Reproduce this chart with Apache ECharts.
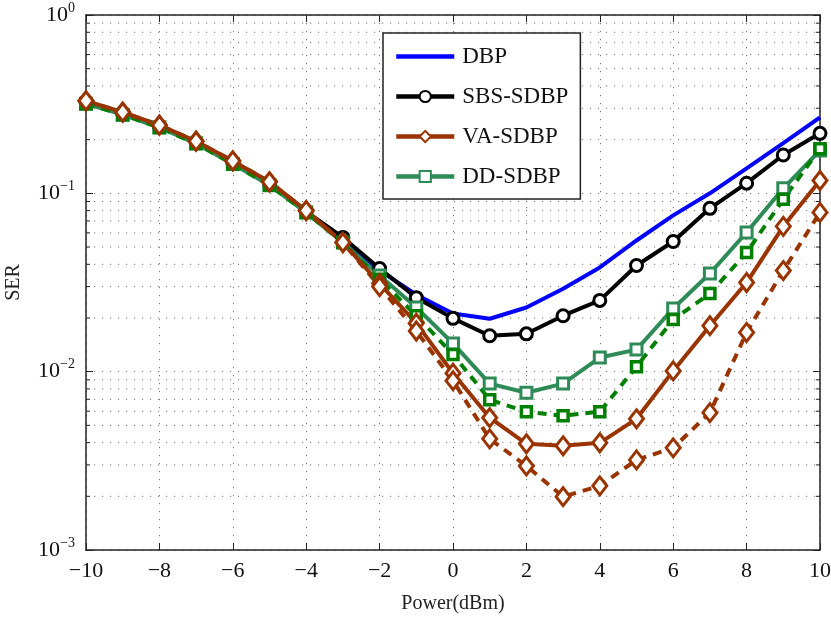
<!DOCTYPE html>
<html>
<head>
<meta charset="utf-8">
<script src="https://cdn.jsdelivr.net/npm/echarts@6/dist/echarts.min.js"></script>
<style>
  html, body { margin: 0; padding: 0; background: #fff; }
  #main { width: 831px; height: 617px; }
</style>
</head>
<body>
<div id="main"></div>
<script>
// power axis (dBm)
var power = [-10, -9, -8, -7, -6, -5, -4, -3, -2, -1, 0, 1, 2, 3, 4, 5, 6, 7, 8, 9, 10];

var dbp = [0.325, 0.281, 0.238, 0.194, 0.149, 0.113, 0.079, 0.054, 0.037, 0.027, 0.0212,
           0.0198, 0.0229, 0.0292, 0.0384, 0.0544, 0.0752, 0.100, 0.138, 0.191, 0.267];
var sbs = [0.325, 0.281, 0.238, 0.194, 0.149, 0.113, 0.079, 0.0566, 0.0379, 0.0260, 0.0199,
           0.0159, 0.0163, 0.0206, 0.0251, 0.0394, 0.0537, 0.0824, 0.114, 0.164, 0.217];
var vaSolid = [0.330, 0.285, 0.241, 0.196, 0.152, 0.116, 0.080, 0.053, 0.0312, 0.0187, 0.0098,
               0.00552, 0.00394, 0.00384, 0.00399, 0.00544, 0.0101, 0.0181, 0.0316, 0.0653, 0.118];
var vaDashed = [0.330, 0.285, 0.241, 0.196, 0.152, 0.116, 0.080, 0.053, 0.030, 0.0169, 0.0089,
                0.0042, 0.00296, 0.00199, 0.00229, 0.0032, 0.00374, 0.00589, 0.0166, 0.0369, 0.0782];
var ddSolid = [0.318, 0.276, 0.234, 0.190, 0.146, 0.111, 0.078, 0.053, 0.0346, 0.0229, 0.0144,
               0.00857, 0.00762, 0.00857, 0.0120, 0.0133, 0.0226, 0.0355, 0.0604, 0.1067, 0.174];
var ddDashed = [0.318, 0.276, 0.234, 0.190, 0.146, 0.111, 0.078, 0.053, 0.033, 0.0206, 0.0125,
                0.00696, 0.00596, 0.00566, 0.00596, 0.01067, 0.0196, 0.0274, 0.0466, 0.0925, 0.178];

var legendNames = ['DBP', 'SBS-SDBP', 'VA-SDBP', 'DD-SDBP'];

// minor grid values 2..9 in each decade
var minorVals = [];
[0.001, 0.01, 0.1].forEach(function (d) {
    for (var k = 2; k <= 9; k++) minorVals.push(+(d * k).toPrecision(3));
});

function pairs(ys) {
    return power.map(function (x, i) { return [x, ys[i]]; });
}

var serif = 'Liberation Serif';
var dotted = { color: '#777', width: 1, type: [1.2, 6.8] };

var dom = document.getElementById('main');
var myChart = echarts.init(dom);

function mkLine(name, data, color, symbol, size, dashed, border) {
    return {
        name: name,
        type: 'line',
        data: pairs(data),
        symbol: symbol,
        symbolSize: size,
        showSymbol: symbol !== 'none',
        lineStyle: { color: color, width: 4, type: dashed ? [9, 7] : 'solid' },
        itemStyle: { color: '#fff', borderColor: color, borderWidth: border || 3 },
        emphasis: { disabled: true },
        animation: false,
        z: 5
    };
}

var option = {
    animation: false,
    textStyle: { fontFamily: serif },
    grid: { left: 86, right: 11, top: 15, bottom: 67, outerBoundsMode: 'none', containLabel: false },
    legend: {
        data: [
            { name: 'DBP', itemStyle: { opacity: 0 } },
            'SBS-SDBP', 'VA-SDBP', 'DD-SDBP'
        ],
        orient: 'vertical',
        left: 383,
        top: 33,
        padding: [12, 12, 11, 11],
        itemGap: 17,
        itemWidth: 58,
        itemHeight: 14,
        backgroundColor: '#fff',
        borderColor: '#222',
        borderWidth: 1.5,
        borderRadius: 0,
        lineStyle: { width: 4.5 },
        textStyle: { fontFamily: serif, fontSize: 23, color: '#111', padding: [0, 0, 0, 3] },
        selectedMode: false
    },
    xAxis: [{
        type: 'value',
        min: -10,
        max: 10,
        interval: 2,
        name: 'Power(dBm)',
        nameLocation: 'middle',
        nameGap: 44,
        nameTextStyle: { fontFamily: serif, fontSize: 20, color: '#222' },
        axisLine: { onZero: false, lineStyle: { color: '#222', width: 1.5 } },
        axisTick: { inside: true, length: 7, lineStyle: { color: '#222' } },
        axisLabel: {
            fontFamily: serif, fontSize: 22, color: '#111', margin: 10,
            formatter: function (v) { return String(v).replace('-', '\u2212'); }
        },
        splitLine: { show: true, lineStyle: dotted }
    }, {
        type: 'value',
        position: 'top',
        min: -10,
        max: 10,
        interval: 2,
        axisLine: { show: true, onZero: false, lineStyle: { color: '#222', width: 1.5 } },
        axisTick: { show: true, inside: true, length: 7, lineStyle: { color: '#222' } },
        axisLabel: { show: false },
        splitLine: { show: false }
    }],
    yAxis: [{
        type: 'log',
        logBase: 10,
        min: 0.001,
        max: 1,
        name: 'SER',
        nameLocation: 'middle',
        nameGap: 62,
        nameTextStyle: { fontFamily: serif, fontSize: 20, color: '#222' },
        axisLine: { show: true, onZero: false, lineStyle: { color: '#222', width: 1.5 } },
        axisTick: { show: true, inside: true, length: 7, lineStyle: { color: '#222' } },
        axisLabel: {
            color: '#111', margin: 11,
            formatter: function (v) {
                var e = Math.round(Math.log10(v));
                return '{b|10}{s|' + (e < 0 ? '\u2212' + (-e) : e) + '}';
            },
            rich: {
                b: { fontFamily: serif, fontSize: 22, color: '#111' },
                s: { fontFamily: serif, fontSize: 14, color: '#111', padding: [0, 0, 14, 0] }
            }
        },
        splitLine: { show: true, lineStyle: dotted }
    }, {
        type: 'log',
        logBase: 10,
        min: 0.001,
        max: 1,
        position: 'right',
        axisLine: { show: true, onZero: false, lineStyle: { color: '#222', width: 1.5 } },
        axisTick: { show: true, inside: true, length: 7, lineStyle: { color: '#222' } },
        axisLabel: { show: false },
        splitLine: { show: false }
    }],
    series: [
        {
            name: 'minor',
            type: 'custom',
            silent: true,
            z: 1,
            data: minorVals.map(function (v) { return [-10, v]; }),
            encode: { x: 0, y: 1 },
            renderItem: function (params, api) {
                var cs = params.coordSys;
                var y = api.coord([-10, api.value(1)])[1];
                return {
                    type: 'group',
                    children: [
                        { type: 'line', shape: { x1: cs.x, y1: y, x2: cs.x + cs.width, y2: y },
                          style: { stroke: '#777', lineWidth: 1, lineDash: [1.2, 6.8] } },
                        { type: 'line', shape: { x1: cs.x, y1: y, x2: cs.x + 4, y2: y },
                          style: { stroke: '#222', lineWidth: 1 } },
                        { type: 'line', shape: { x1: cs.x + cs.width - 4, y1: y, x2: cs.x + cs.width, y2: y },
                          style: { stroke: '#222', lineWidth: 1 } }
                    ]
                };
            }
        },
        mkLine('DBP', dbp, '#0000ff', 'none', 0, false),
        mkLine('SBS-SDBP', sbs, '#000000', 'circle', 12, false),
        mkLine('DD-SDBP', ddSolid, '#2e8b57', 'rect', 11, false),
        mkLine('DD-SDBP dashed', ddDashed, '#008000', 'rect', 10, true, 3.5),
        mkLine('VA-SDBP', vaSolid, '#993300', 'diamond', [14, 18], false),
        mkLine('VA-SDBP dashed', vaDashed, '#993300', 'diamond', [14, 18], true)
    ]
};

if (option && typeof option === 'object') {
    myChart.setOption(option, true);
}
</script>
</body>
</html>
